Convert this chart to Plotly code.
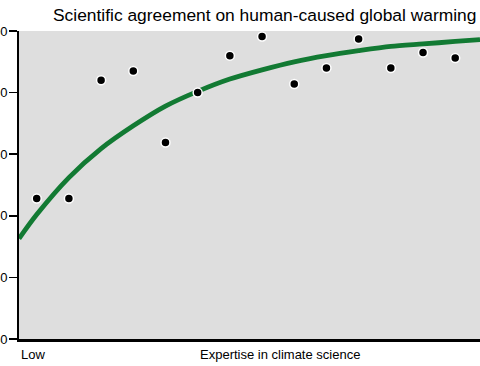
import plotly.graph_objects as go

# Data
expertise = [1, 2, 3, 4, 5, 6, 7, 8, 9, 10, 11, 12, 13, 14]
agreement = [72.8, 72.8, 92.0, 93.5, 81.9, 90.0, 96.0, 99.1, 91.4, 94.0, 98.7, 94.0, 96.5, 95.6]

# Trend curve points
curve_x = [0.45, 1, 2, 3, 4, 5, 6, 7, 8, 9, 10, 11, 12, 13, 14, 14.77]
curve_y = [66.3, 70.2, 76.2, 80.9, 84.6, 87.8, 90.2, 92.2, 93.7, 95.0, 96.0, 96.8, 97.5, 97.9, 98.3, 98.6]

y_ticks = [50, 60, 70, 80, 90, 100]
y_tick_labels = ["50", "60", "70", "80", "90", "100"]

title_text = "Scientific agreement on human-caused global warming"
x_title = "Expertise in climate science"
x_low_label = "Low"

FONT = "Liberation Sans, Arial, sans-serif"

fig = go.Figure()
fig.add_trace(go.Scatter(
    x=curve_x, y=curve_y, mode="lines",
    line=dict(color="#127a33", width=4.8, shape="spline", smoothing=0.8),
    hoverinfo="skip", showlegend=False,
))
fig.add_trace(go.Scatter(
    x=expertise, y=agreement, mode="markers",
    marker=dict(color="black", size=9, line=dict(color="white", width=1.5)),
    showlegend=False, cliponaxis=False,
))

fig.update_layout(
    template="none",
    width=480, height=366,
    margin=dict(l=19, r=0, t=31, b=27, pad=0),
    paper_bgcolor="white",
    plot_bgcolor="#dedede",
    font=dict(family=FONT, color="black"),
    showlegend=False,
    xaxis=dict(
        range=[0.45, 14.77], showgrid=False, zeroline=False,
        showticklabels=False, ticks="", automargin=False,
        showline=True, linecolor="black", linewidth=2.5,
        fixedrange=True,
    ),
    yaxis=dict(
        range=[50, 100], showgrid=False, zeroline=False, automargin=False,
        tickmode="array", tickvals=y_ticks, ticktext=y_tick_labels,
        ticks="outside", ticklen=8, tickwidth=1.5, tickcolor="black",
        ticklabelstandoff=-1,
        tickfont=dict(size=13, family=FONT, color="black"),
        showline=True, linecolor="black", linewidth=2,
        fixedrange=True,
    ),
    annotations=[
        dict(text=title_text, xref="paper", yref="paper", x=0.996, y=1,
             xanchor="right", yanchor="bottom", yshift=4, showarrow=False,
             font=dict(size=17.4, family=FONT, color="black")),
        dict(text=x_title, xref="paper", yref="paper", x=0.566, y=0,
             xanchor="center", yanchor="top", yshift=-6, showarrow=False,
             font=dict(size=13, family=FONT, color="black")),
        dict(text=x_low_label, xref="paper", yref="paper", x=0, y=0,
             xanchor="left", yanchor="top", yshift=-6, showarrow=False,
             font=dict(size=13, family=FONT, color="black")),
    ],
)

fig.write_html(
    "out.html",
    config={"displayModeBar": False, "staticPlot": True},
    post_script="document.body.style.margin='0';document.body.style.overflow='hidden';",
)
